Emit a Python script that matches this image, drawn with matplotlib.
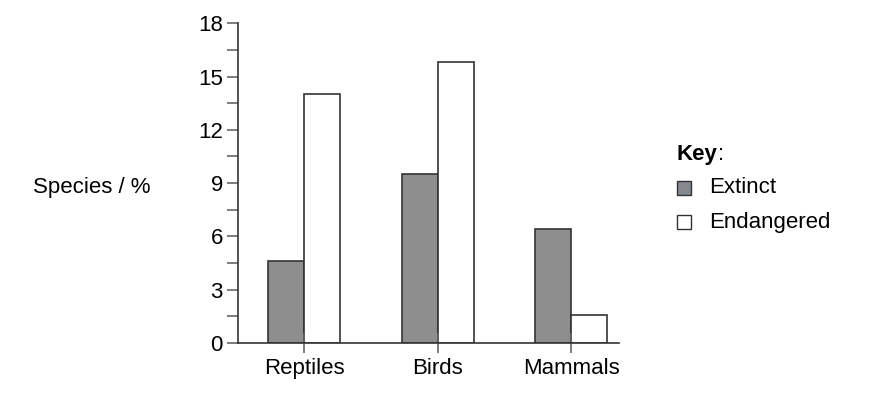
import numpy as np
import matplotlib.pyplot as plt
from matplotlib.ticker import MultipleLocator

plt.rcParams['font.family'] = ['Liberation Sans', 'DejaVu Sans']

# data
categories = ['Reptiles', 'Birds', 'Mammals']
extinct = [4.6, 9.5, 6.4]
endangered = [14.0, 15.8, 1.6]
series_names = ['Extinct', 'Endangered']

fs = 16
fig = plt.figure(figsize=(8.82, 3.93), dpi=100)
ax = fig.add_axes([0.270, 0.127, 0.432, 0.814])

x = np.arange(len(categories))
w = 0.27
edge = '#333333'
ax.bar(x - w / 2, extinct, w, color='#8e8e8e', edgecolor=edge, linewidth=1.2)
ax.bar(x + w / 2, endangered, w, color='white', edgecolor=edge, linewidth=1.2)

ax.set_xlim(-0.494, 2.36)
ax.set_ylim(0, 18)
ax.yaxis.set_major_locator(MultipleLocator(3))
ax.yaxis.set_minor_locator(MultipleLocator(1.5))
ax.set_xticks(x)
ax.set_xticklabels(categories, fontsize=fs)
ax.tick_params(axis='y', which='both', length=8, width=1.2, color='#666666', labelsize=fs, pad=3)
ax.tick_params(axis='x', direction='inout', length=14, width=1.2, color='#666666', pad=4)

for s in ['top', 'right']:
    ax.spines[s].set_visible(False)
for s in ['left', 'bottom']:
    ax.spines[s].set_linewidth(1.2)
    ax.spines[s].set_color('#333333')

fig.text(0.037, 0.524, 'Species / %', fontsize=fs, va='center', ha='left')

# key
key = fig.text(0.7675, 0.606, 'Key', fontsize=fs, fontweight='bold', va='center')
fig.text(0, 0, ':', fontsize=fs, va='center', ha='left')
fig.texts[-1].remove()
ax.annotate(':', xy=(1, 0.5), xycoords=key, va='center', ha='left', fontsize=fs)
fills = ['#868a8e', 'white']
ys = [0.522, 0.435]
for name, fc, yy in zip(series_names, fills, ys):
    fig.patches.append(plt.Rectangle((0.7675, yy - 0.018), 0.0159, 0.0356, transform=fig.transFigure,
                                     facecolor=fc, edgecolor=edge, linewidth=1.0))
    fig.text(0.804, yy, name, fontsize=fs, va='center')

fig.savefig('out.png', dpi=100)
